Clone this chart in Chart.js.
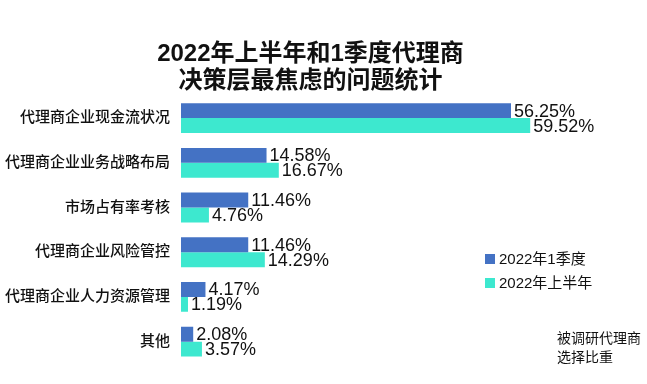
<!DOCTYPE html>
<html lang="zh">
<head>
    <meta charset="utf-8" />
    <title>代理商决策层最焦虑的问题统计</title>
    <style>
        body {
            margin: 0;
            background: #fff;
        }
        #chartBox {
            width: 647px;
            height: 384px;
        }
    </style>
</head>
<body>
    <div id="chartBox">
        <canvas id="agentChart"></canvas>
    </div>
    <script src="https://cdn.jsdelivr.net/npm/chart.js"></script>
    <script>
        // data
        var categories = ['代理商企业现金流状况', '代理商企业业务战略布局', '市场占有率考核',
            '代理商企业风险管控', '代理商企业人力资源管理', '其他'];
        var seriesNames = ['2022年1季度', '2022年上半年'];
        var q1Values = [56.25, 14.58, 11.46, 11.46, 4.17, 2.08];
        var h1Values = [59.52, 16.67, 4.76, 14.29, 1.19, 3.57];
        var titleLines = ['2022年上半年和1季度代理商', '决策层最焦虑的问题统计'];
        var noteLines = ['被调研代理商', '选择比重'];

        var fontFamily = '"Liberation Sans", Arial, "Noto Sans CJK SC", sans-serif';
        var blue = '#4472C4';
        var teal = '#3DE8CF';

        // value labels at the end of each bar
        var barLabels = {
            id: 'barLabels',
            afterDatasetsDraw: function(chart) {
                var ctx = chart.ctx;
                ctx.save();
                ctx.font = '18px ' + fontFamily;
                ctx.fillStyle = '#111';
                ctx.textAlign = 'left';
                ctx.textBaseline = 'middle';
                chart.data.datasets.forEach(function(ds, i) {
                    chart.getDatasetMeta(i).data.forEach(function(bar, j) {
                        ctx.fillText(ds.data[j].toFixed(2) + '%', bar.x + 3, bar.y + 1);
                    });
                });
                ctx.restore();
            }
        };

        // legend and note drawn inside the plot
        var sideText = {
            id: 'sideText',
            afterDraw: function(chart) {
                var ctx = chart.ctx;
                ctx.save();
                ctx.textBaseline = 'middle';
                ctx.font = '15px ' + fontFamily;
                chart.data.datasets.forEach(function(ds, i) {
                    var y = 259 + i * 24;
                    ctx.fillStyle = ds.backgroundColor;
                    ctx.fillRect(485, y - 5, 10, 10);
                    ctx.fillStyle = '#111';
                    ctx.fillText(ds.label, 499, y + 1);
                });
                ctx.font = '14px ' + fontFamily;
                noteLines.forEach(function(line, i) {
                    ctx.fillText(line, 557, 339 + i * 19);
                });
                ctx.restore();
            }
        };

        var ctx = document.getElementById('agentChart').getContext('2d');
        var agentChart = new Chart(ctx, {
            type: 'bar',
            data: {
                labels: categories,
                datasets: [{
                    label: seriesNames[0],
                    data: q1Values,
                    backgroundColor: blue,
                    categoryPercentage: 0.667,
                    barPercentage: 1.0
                }, {
                    label: seriesNames[1],
                    data: h1Values,
                    backgroundColor: teal,
                    categoryPercentage: 0.667,
                    barPercentage: 1.0
                }]
            },
            options: {
                indexAxis: 'y',
                responsive: true,
                maintainAspectRatio: false,
                animation: false,
                layout: {
                    padding: { left: 0, right: 26, top: 0, bottom: 1 }
                },
                scales: {
                    x: {
                        display: false,
                        min: 0,
                        max: 75
                    },
                    y: {
                        grid: { display: false, drawTicks: false },
                        border: { display: false },
                        ticks: {
                            color: '#111',
                            padding: 11,
                            font: { family: fontFamily, size: 15, weight: '500' }
                        },
                        afterFit: function(scale) {
                            scale.width = 181;
                        }
                    }
                },
                plugins: {
                    legend: { display: false },
                    tooltip: { enabled: false },
                    title: {
                        display: true,
                        text: titleLines,
                        color: '#111',
                        font: { family: fontFamily, size: 24, weight: 'bold', lineHeight: 1.12 },
                        padding: { top: 41, bottom: 1 }
                    }
                }
            },
            plugins: [barLabels, sideText]
        });
    </script>
</body>
</html>
